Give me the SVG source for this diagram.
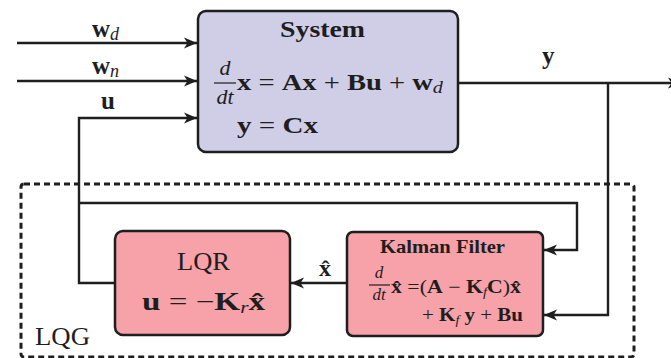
<svg xmlns="http://www.w3.org/2000/svg" width="671" height="358" viewBox="0 0 671 358">
  <style>
    .box { stroke: #1e1e1e; stroke-width: 2.5; }
    .sys { fill: #d0cde6; }
    .ctl { fill: #f7a1a8; }
    .wire { fill: none; stroke: #1e1e1e; stroke-width: 2.4; }
    .frame { fill: none; stroke: #1e1e1e; stroke-width: 3; stroke-dasharray: 6 4; }
    text { font-family: "Liberation Serif", "DejaVu Serif", serif; fill: #1e1e1e; }
    .b { font-weight: bold; }
    .i { font-style: italic; font-weight: normal; }
    .bar { stroke: #1e1e1e; stroke-width: 1.2; }
  </style>
  <defs>
    <marker id="arrow" markerUnits="userSpaceOnUse" markerWidth="14" markerHeight="12" viewBox="0 0 14 12" refX="13" refY="6" orient="auto">
      <path d="M0,0.5 L13,6 L0,11.5 L3.5,6 Z" fill="#1e1e1e"/>
    </marker>
  </defs>

  <rect width="671" height="358" fill="#ffffff"/>

  <!-- LQG controller frame -->
  <g id="lqg-frame">
    <rect class="frame" x="21" y="184" width="613" height="173" rx="3"/>
    <text x="35" y="345" font-size="25" textLength="55" lengthAdjust="spacingAndGlyphs">LQG</text>
  </g>

  <!-- connectors -->
  <g id="connectors">
    <path class="wire" d="M17,43 H197" marker-end="url(#arrow)"/>
    <path class="wire" d="M17,81 H197" marker-end="url(#arrow)"/>
    <path class="wire" d="M115,283 H79 V118 H197" marker-end="url(#arrow)"/>
    <path class="wire" d="M79,203 H577 V250 H544" marker-end="url(#arrow)"/>
    <path class="wire" d="M458,83 H681" marker-end="url(#arrow)"/>
    <path class="wire" d="M608,83 V315 H544" marker-end="url(#arrow)"/>
    <path class="wire" d="M347,283 H291" marker-end="url(#arrow)"/>

    <text x="92" y="37" font-size="25"><tspan class="b">w</tspan><tspan class="i" font-size="18" dy="3">d</tspan></text>
    <text x="92" y="74" font-size="25"><tspan class="b">w</tspan><tspan class="i" font-size="18" dy="3">n</tspan></text>
    <text x="101" y="109" font-size="25" class="b">u</text>
    <text x="542" y="64" font-size="25" class="b">y</text>
    <text x="319" y="276" font-size="24" class="b">x̂</text>
  </g>

  <!-- plant -->
  <g id="system">
    <rect class="box sys" x="198" y="11" width="260" height="141" rx="8"/>
    <text x="280" y="37" font-size="24" class="b" textLength="85" lengthAdjust="spacingAndGlyphs">System</text>
    <text x="225" y="75" font-size="22" class="i" text-anchor="middle">d</text>
    <line class="bar" x1="214" y1="83" x2="236" y2="83"/>
    <text x="225" y="104" font-size="22" class="i" text-anchor="middle">dt</text>
    <text x="237" y="90" font-size="24" textLength="206" lengthAdjust="spacingAndGlyphs"><tspan class="b">x</tspan> = <tspan class="b">Ax</tspan> + <tspan class="b">Bu</tspan> + <tspan class="b">w</tspan><tspan class="i" font-size="17" dy="3">d</tspan></text>
    <text x="237" y="133" font-size="24" textLength="81" lengthAdjust="spacingAndGlyphs"><tspan class="b">y</tspan> = <tspan class="b">Cx</tspan></text>
  </g>

  <!-- state feedback gain -->
  <g id="lqr">
    <rect class="box ctl" x="115" y="231" width="175" height="104" rx="8"/>
    <text x="177" y="270" font-size="25" textLength="53" lengthAdjust="spacingAndGlyphs">LQR</text>
    <text x="142" y="310" font-size="25" textLength="123" lengthAdjust="spacingAndGlyphs"><tspan class="b">u</tspan> = −<tspan class="b">K</tspan><tspan class="i" font-size="16" dy="3">r</tspan><tspan class="b" dy="-3">x̂</tspan></text>
  </g>

  <!-- estimator -->
  <g id="kalman-filter">
    <rect class="box ctl" x="347" y="232" width="196" height="104" rx="6"/>
    <text x="380" y="253" font-size="19" class="b" textLength="125" lengthAdjust="spacingAndGlyphs">Kalman Filter</text>
    <text x="379" y="278" font-size="17" class="i" text-anchor="middle">d</text>
    <line class="bar" x1="369" y1="285" x2="390" y2="285"/>
    <text x="379" y="300" font-size="17" class="i" text-anchor="middle">dt</text>
    <text x="391" y="293" font-size="18" textLength="130" lengthAdjust="spacingAndGlyphs"><tspan class="b">x̂</tspan> =(<tspan class="b">A</tspan> − <tspan class="b">K</tspan><tspan class="i" font-size="12" dy="3">f</tspan><tspan class="b" dy="-3">C</tspan>)<tspan class="b">x̂</tspan></text>
    <text x="422" y="321" font-size="18" textLength="101" lengthAdjust="spacingAndGlyphs">+ <tspan class="b">K</tspan><tspan class="i" font-size="12" dy="3">f</tspan><tspan class="b" dy="-3"> y</tspan> + <tspan class="b">Bu</tspan></text>
  </g>
</svg>
